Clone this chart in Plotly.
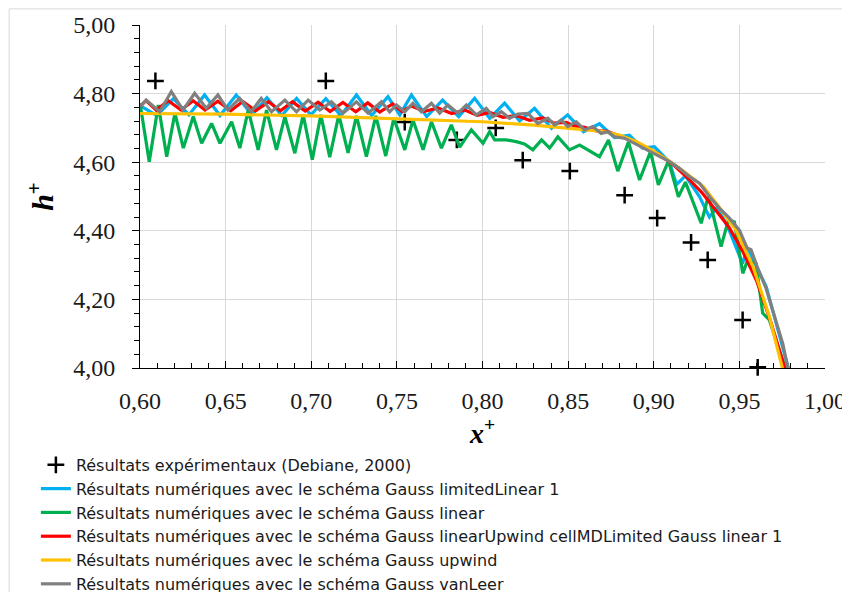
import plotly.graph_objects as go

# Experimental data (Debiane, 2000)
exp_x = [0.609, 0.7085, 0.7546, 0.785, 0.8077, 0.8235, 0.851, 0.883, 0.902, 0.9218, 0.9315, 0.9519, 0.9607]
exp_y = [4.837, 4.837, 4.717, 4.665, 4.700, 4.606, 4.574, 4.504, 4.437, 4.366, 4.315, 4.140, 4.002]

# Gauss limitedLinear 1 (blue)
blue_x = [0.600, 0.6099, 0.6194, 0.6286, 0.6377, 0.6467, 0.6562, 0.6653, 0.6741, 0.6828, 0.6914, 0.6998,
          0.7085, 0.7173, 0.7264, 0.7353, 0.7448, 0.7517, 0.7585, 0.7674, 0.7767, 0.7861, 0.7954, 0.8042,
          0.8129, 0.8217, 0.8304, 0.8403, 0.8497, 0.8590, 0.8683, 0.8771, 0.8858, 0.8934, 0.9004, 0.9092,
          0.9133, 0.9185, 0.9267, 0.9325, 0.9372, 0.9442, 0.9518, 0.9548, 0.9657, 0.9720, 0.9786, 0.9790]
blue_y = [4.765, 4.736, 4.785, 4.738, 4.796, 4.736, 4.796, 4.738, 4.788, 4.736, 4.786, 4.738,
          4.785, 4.736, 4.796, 4.736, 4.791, 4.738, 4.796, 4.733, 4.781, 4.733, 4.786, 4.728,
          4.772, 4.720, 4.757, 4.699, 4.738, 4.689, 4.712, 4.672, 4.679, 4.641, 4.645, 4.600,
          4.535, 4.560, 4.500, 4.440, 4.470, 4.400, 4.305, 4.350, 4.237, 4.120, 4.000, 3.980]

# Gauss linear (green)
green_x = [0.600, 0.6054, 0.6107, 0.6156, 0.6204, 0.6253, 0.6311, 0.6360, 0.6418, 0.6467, 0.6535, 0.6583,
           0.6632, 0.6690, 0.6739, 0.6797, 0.6846, 0.6904, 0.6953, 0.7006, 0.7056, 0.7108, 0.7161, 0.7215,
           0.7264, 0.7322, 0.7377, 0.7435, 0.7482, 0.7546, 0.7594, 0.7653, 0.7702, 0.7760, 0.7818, 0.7867,
           0.7902, 0.7935, 0.8003, 0.8042, 0.8071, 0.8139, 0.8197, 0.8245, 0.8294, 0.8345, 0.8392, 0.8440,
           0.8508, 0.8567, 0.8615, 0.8683, 0.8736, 0.8790, 0.8852, 0.8917, 0.8981, 0.9027, 0.9086, 0.9144,
           0.9185, 0.9277, 0.9319, 0.9393, 0.9436, 0.9471, 0.9520, 0.9549, 0.9597, 0.9636, 0.9675, 0.9768,
           0.9775]
green_y = [4.772, 4.601, 4.767, 4.616, 4.743, 4.641, 4.733, 4.655, 4.713, 4.655, 4.718, 4.641,
           4.752, 4.636, 4.752, 4.636, 4.733, 4.626, 4.738, 4.607, 4.738, 4.615, 4.738, 4.627,
           4.735, 4.616, 4.735, 4.618, 4.728, 4.636, 4.723, 4.636, 4.718, 4.641, 4.709, 4.644,
           4.670, 4.694, 4.655, 4.689, 4.665, 4.665, 4.660, 4.653, 4.636, 4.665, 4.641, 4.674,
           4.636, 4.650, 4.636, 4.616, 4.665, 4.574, 4.659, 4.548, 4.631, 4.534, 4.604, 4.499,
           4.542, 4.422, 4.502, 4.354, 4.432, 4.426, 4.276, 4.315, 4.305, 4.160, 4.140, 4.000,
           3.980]

# Gauss linearUpwind cellMDLimited Gauss linear 1 (red)
red_x = [0.600, 0.6035, 0.6095, 0.6165, 0.6240, 0.6310, 0.6380, 0.6455, 0.6530, 0.6600, 0.6675, 0.6750,
         0.6820, 0.6890, 0.6965, 0.7040, 0.7110, 0.7185, 0.7260, 0.7330, 0.7400, 0.7475, 0.7530, 0.7585,
         0.7660, 0.7740, 0.7820, 0.7896, 0.7970, 0.8042, 0.8120, 0.8197, 0.8275, 0.8353, 0.8420, 0.8489,
         0.8540, 0.8596, 0.8660, 0.8730, 0.8800, 0.8880, 0.8960, 0.9040, 0.9120, 0.9200, 0.9280, 0.9360,
         0.9440, 0.9520, 0.9600, 0.9680, 0.9765, 0.9770]
red_y = [4.762, 4.780, 4.752, 4.779, 4.752, 4.779, 4.752, 4.778, 4.750, 4.777, 4.750, 4.776,
         4.750, 4.776, 4.749, 4.775, 4.748, 4.774, 4.747, 4.773, 4.746, 4.770, 4.748, 4.764,
         4.748, 4.758, 4.742, 4.752, 4.737, 4.745, 4.731, 4.736, 4.722, 4.729, 4.714, 4.716,
         4.705, 4.702, 4.692, 4.690, 4.676, 4.662, 4.642, 4.620, 4.590, 4.553, 4.512, 4.462,
         4.410, 4.340, 4.255, 4.140, 4.000, 3.980]

# Gauss upwind (yellow)
yellow_x = [0.600, 0.650, 0.700, 0.750, 0.800, 0.830, 0.850, 0.870, 0.880, 0.890, 0.900, 0.910,
            0.919, 0.929, 0.938, 0.948, 0.958, 0.9675, 0.9751, 0.9755]
yellow_y = [4.742, 4.740, 4.735, 4.727, 4.718, 4.708, 4.700, 4.690, 4.679, 4.660, 4.632, 4.600,
            4.568, 4.529, 4.470, 4.402, 4.295, 4.150, 4.000, 3.980]

# Gauss vanLeer (grey)
grey_x = [0.600, 0.6037, 0.6115, 0.6183, 0.6251, 0.6319, 0.6387, 0.6455, 0.6513, 0.6582, 0.6649, 0.6708,
          0.6768, 0.6846, 0.6914, 0.6982, 0.7050, 0.7118, 0.7186, 0.7264, 0.7332, 0.7410, 0.7458, 0.7497,
          0.7546, 0.7594, 0.7643, 0.7702, 0.7750, 0.7798, 0.7857, 0.7906, 0.7964, 0.8022, 0.8061, 0.8110,
          0.8158, 0.8207, 0.8265, 0.8323, 0.8382, 0.8421, 0.8460, 0.8498, 0.8547, 0.8596, 0.8644, 0.8693,
          0.8732, 0.8771, 0.8829, 0.8887, 0.8946, 0.9033, 0.9092, 0.9150, 0.9208, 0.9267, 0.9325, 0.9383,
          0.9442, 0.9500, 0.9545, 0.9568, 0.9607, 0.9656, 0.9704, 0.9753, 0.9782, 0.9790]
grey_y = [4.762, 4.781, 4.747, 4.806, 4.752, 4.801, 4.757, 4.796, 4.752, 4.786, 4.747, 4.786,
          4.747, 4.781, 4.747, 4.781, 4.752, 4.776, 4.743, 4.776, 4.743, 4.776, 4.747, 4.767,
          4.747, 4.772, 4.747, 4.772, 4.743, 4.767, 4.743, 4.767, 4.738, 4.757, 4.733, 4.747,
          4.728, 4.740, 4.742, 4.713, 4.728, 4.709, 4.723, 4.704, 4.718, 4.694, 4.704, 4.684,
          4.689, 4.674, 4.670, 4.655, 4.641, 4.616, 4.602, 4.582, 4.558, 4.539, 4.500, 4.466,
          4.437, 4.402, 4.350, 4.345, 4.291, 4.232, 4.150, 4.072, 4.003, 3.980]

labels = [
    "Résultats expérimentaux (Debiane, 2000)",
    "Résultats numériques avec le schéma Gauss limitedLinear 1",
    "Résultats numériques avec le schéma Gauss linear",
    "Résultats numériques avec le schéma Gauss linearUpwind cellMDLimited Gauss linear 1",
    "Résultats numériques avec le schéma Gauss upwind",
    "Résultats numériques avec le schéma Gauss vanLeer",
]

fig = go.Figure()
fig.add_trace(go.Scatter(x=exp_x, y=exp_y, mode="markers", name=labels[0],
                         marker=dict(symbol="cross-thin", size=12, color="black",
                                     line=dict(width=2.5, color="black")), cliponaxis=False))
series = [(blue_x, blue_y, "#00B0F0"), (green_x, green_y, "#00B050"), (red_x, red_y, "#FF0000"),
          (yellow_x, yellow_y, "#FFC000"), (grey_x, grey_y, "#808080")]
for (xs, ys, c), name in zip(series, labels[1:]):
    fig.add_trace(go.Scatter(x=xs, y=ys, mode="lines", name=name,
                             line=dict(color=c, width=3.2)))

tickfont = dict(family="Liberation Serif", size=24, color="#1a1a1a")
fig.update_layout(
    width=842, height=584,
    margin=dict(l=132, r=25, t=17, b=224, autoexpand=False),
    paper_bgcolor="white", plot_bgcolor="white",
    separators=", ",
    showlegend=True,
    legend=dict(x=-0.152, y=-0.233, xanchor="left", yanchor="top", traceorder="normal",
                font=dict(family="DejaVu Sans", size=16, color="#1a1a1a"),
                bgcolor="rgba(0,0,0,0)", itemwidth=30, tracegroupgap=0),
    xaxis=dict(range=[0.6, 1.0], dtick=0.05, tick0=0.6, tickformat=".2f",
               showgrid=True, gridcolor="#d9d9d9", gridwidth=1, zeroline=False,
               showline=True, linecolor="black", linewidth=1,
               ticks="inside", ticklen=7, tickcolor="black", tickfont=tickfont,
               ticklabelstandoff=11,
               minor=dict(dtick=0.01, ticks="inside", ticklen=5, tickcolor="black", showgrid=False),
               title=dict(text="<b><i>x</i><sup>+</sup></b>", font=dict(family="Liberation Serif", size=28, color="black"),
                          standoff=7),
               automargin=False),
    yaxis=dict(range=[4.0, 5.0], dtick=0.2, tick0=4.0, tickformat=".2f",
               showgrid=True, gridcolor="#d9d9d9", gridwidth=1, zeroline=False,
               showline=True, linecolor="black", linewidth=1,
               ticks="outside", ticklen=7, tickcolor="black", tickfont=tickfont,
               ticklabelstandoff=12,
               minor=dict(dtick=0.04, ticks="outside", ticklen=5, tickcolor="black", showgrid=False),
               title=dict(text="<b><i>h</i><sup>+</sup></b>", font=dict(family="Liberation Serif", size=30, color="black"),
                          standoff=10),
               automargin=False),
    shapes=[dict(type="rect", xref="paper", yref="paper", x0=-0.191, x1=1.035, y0=-0.80, y1=1.047,
                 line=dict(color="#d9d9d9", width=1), fillcolor="rgba(0,0,0,0)", layer="below")],
)

fig.write_html("out.html")
